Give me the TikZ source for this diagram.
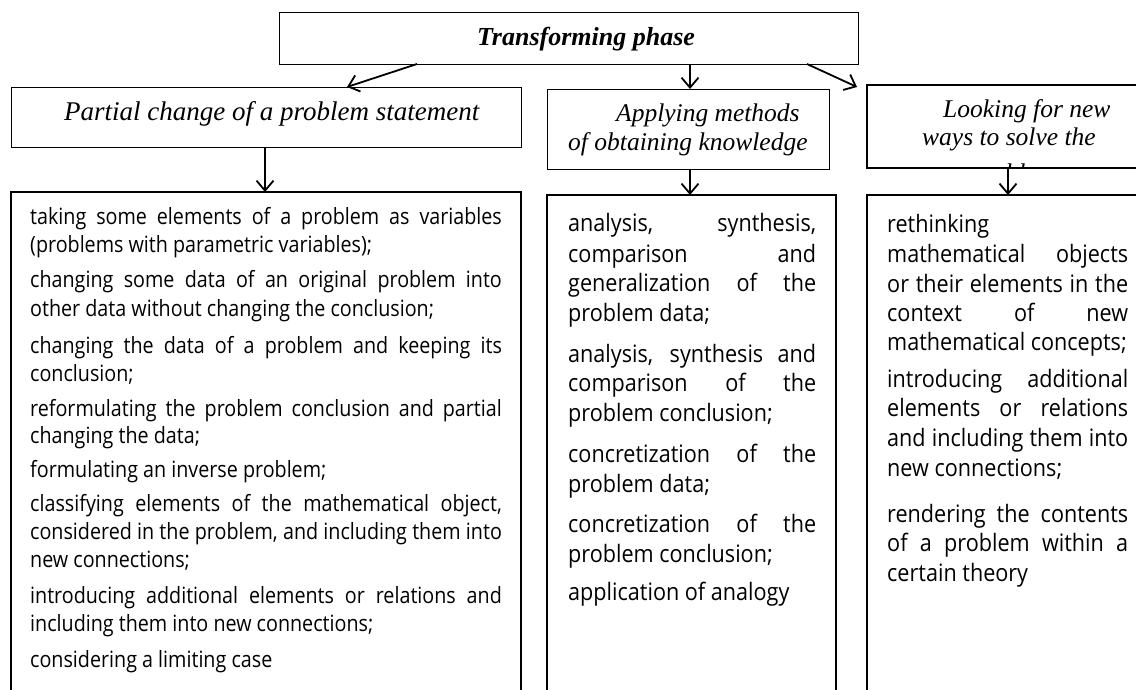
\documentclass[tikz,border=0pt]{standalone}
\usepackage{fontspec}
\usepackage{graphicx}
\setmainfont{Liberation Serif}
\newfontfamily\sansbody{Open Sans}
\usetikzlibrary{arrows.meta}
\newcommand\JL[1]{\scalebox{0.88}[1]{\makebox[536pt][s]{#1}}}
\newcommand\LL[1]{\scalebox{0.88}[1]{#1}}
\newcommand\JM[1]{\scalebox{0.9}[1]{\makebox[275.5pt][s]{#1}}}
\newcommand\JR[1]{\scalebox{0.9}[1]{\makebox[267.8pt][s]{#1}}}
\newcommand\LM[1]{\scalebox{0.9}[1]{#1}}
\begin{document}
\begin{tikzpicture}[x=1pt,y=-1pt,
  box/.style={draw, line width=1.3pt, rectangle, inner sep=0pt, anchor=north west},
  open/.style={line width=1.3pt},
  arr/.style={line width=1.8pt, -{Straight Barb[length=10pt,width=17pt,line width=1.8pt]}},
  head/.style={font=\fontsize{25.5}{30}\selectfont\itshape, inner sep=0pt, anchor=base west},
  ttl/.style={font=\fontsize{26}{30}\selectfont\bfseries\itshape, inner sep=0pt, anchor=base},
  tL/.style={font=\fontsize{22.4}{26}\sansbody, inner sep=0pt, anchor=base west},
  tM/.style={font=\fontsize{24}{28}\sansbody, inner sep=0pt, anchor=base west},
]
\useasboundingbox (0,0) rectangle (1136,690);

% top box and headers
\node[box, minimum width=579pt, minimum height=52pt] (top) at (279,12) {};
\node[ttl] (toptxt) at (586,46) {Transforming phase};

\node[box, minimum width=510pt, minimum height=60pt] (hL) at (11,87) {};
\node[head, font=\fontsize{27}{30}\selectfont\itshape] (hLt) at (64,121) {Partial change of a problem statement};

\node[box, minimum width=282pt, minimum height=80pt] (hM) at (547,89) {};
\node[head] (hMa) at (616,122) {Applying methods};
\node[head] (hMb) at (568,151) {of obtaining knowledge};

% right header (runs off the page)
\draw[open] (1137,85) -- (867,85) -- (867,168) -- (1137,168);
\coordinate (hRtop) at (857,87);
\coordinate (hRbot) at (1008,168);
\node[head] (hRa) at (943,118) {Looking for new};
\node[head] (hRb) at (922,146) {ways to solve the};
\begin{scope}
  \clip (868,86) rectangle (1136,167.4);
  \node[head] (hRc) at (971,182) {problem};
\end{scope}

% body boxes (open at the bottom)
\draw[open] (11,691) -- (11,192) -- (521,192) -- (521,691);
\draw[open] (547,691) -- (547,195) -- (836,195) -- (836,691);
\draw[open] (867,691) -- (867,195) -- (1137,195);
\coordinate (bL) at (265,192);
\coordinate (bM) at (690,195);
\coordinate (bR) at (1008,195);

% connectors
\coordinate (t1) at (417,64);
\coordinate (t3) at (807,64);
\coordinate (hLtip) at (347,87);
\draw[arr] (t1) -- (hLtip);
\draw[arr] (top.south -| bM) -- (hM.north -| bM);
\draw[arr] (t3) -- (hRtop);
\draw[arr] (hL.south -| bL) -- (bL);
\draw[arr] (hM.south -| bM) -- (bM);
\draw[arr] (hRbot) -- (bR);

% left body text
\node[tL] (l1) at (30,224) {\JL{taking some elements of a problem as variables}};
\node[tL] (l2) at (30,252) {\LL{(problems with parametric variables);}};
\node[tL] (l3) at (30,287) {\JL{changing some data of an original problem into}};
\node[tL] (l4) at (30,316) {\LL{other data without changing the conclusion;}};
\node[tL] (l5) at (30,353) {\JL{changing the data of a problem and keeping its}};
\node[tL] (l6) at (30,381) {\LL{conclusion;}};
\node[tL] (l7) at (30,416) {\JL{reformulating the problem conclusion and partial}};
\node[tL] (l8) at (30,443) {\LL{changing the data;}};
\node[tL] (l9) at (30,477) {\LL{formulating an inverse problem;}};
\node[tL] (l10) at (30,511) {\JL{classifying elements of the mathematical object,}};
\node[tL] (l11) at (30,539) {\JL{considered in the problem, and including them into}};
\node[tL] (l12) at (30,567) {\LL{new connections;}};
\node[tL] (l13) at (30,603) {\JL{introducing additional elements or relations and}};
\node[tL] (l14) at (30,631) {\LL{including them into new connections;}};
\node[tL] (l15) at (30,667) {\LL{considering a limiting case}};

% middle body text
\node[tM] (m1) at (568,232) {\JM{analysis, synthesis,}};
\node[tM] (m2) at (568,262) {\JM{comparison and}};
\node[tM] (m3) at (568,291) {\JM{generalization of the}};
\node[tM] (m4) at (568,321) {\LM{problem data;}};
\node[tM] (m5) at (568,362) {\JM{analysis, synthesis and}};
\node[tM] (m6) at (568,391) {\JM{comparison of the}};
\node[tM] (m7) at (568,421) {\LM{problem conclusion;}};
\node[tM] (m8) at (568,462) {\JM{concretization of the}};
\node[tM] (m9) at (568,492) {\LM{problem data;}};
\node[tM] (m10) at (568,532) {\JM{concretization of the}};
\node[tM] (m11) at (568,562) {\LM{problem conclusion;}};
\node[tM] (m12) at (568,600) {\LM{application of analogy}};

% right body text
\node[tM] (r1) at (887,233) {\LM{rethinking}};
\node[tM] (r2) at (887,262) {\JR{mathematical objects}};
\node[tM] (r3) at (887,292) {\JR{or their elements in the}};
\node[tM] (r4) at (887,321) {\JR{context of new}};
\node[tM] (r5) at (887,350) {\LM{mathematical concepts;}};
\node[tM] (r6) at (887,387) {\JR{introducing additional}};
\node[tM] (r7) at (887,416) {\JR{elements or relations}};
\node[tM] (r8) at (887,446) {\JR{and including them into}};
\node[tM] (r9) at (887,476) {\LM{new connections;}};
\node[tM] (r10) at (887,522) {\JR{rendering the contents}};
\node[tM] (r11) at (887,551) {\JR{of a problem within a}};
\node[tM] (r12) at (887,581) {\LM{certain theory}};
\end{tikzpicture}
\end{document}
